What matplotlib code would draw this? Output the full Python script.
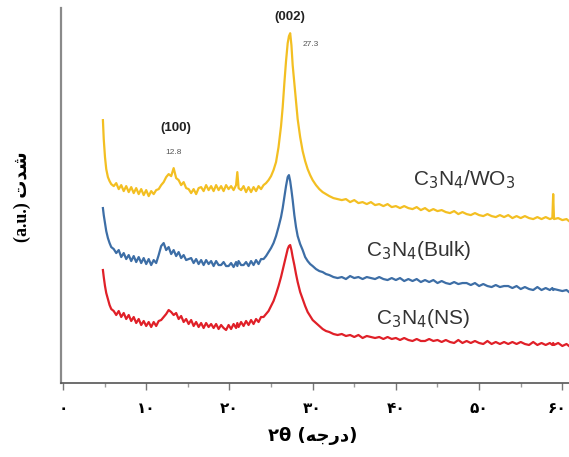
"""طرح XRD سه نمونه C3N4 را بازسازی می‌کند."""

import matplotlib

matplotlib.use("Agg")
import matplotlib.pyplot as plt
from matplotlib.ticker import MultipleLocator
from matplotlib.transforms import ScaledTranslation

OUT_PATH = "out.png"

TWO_THETA = [
    4.8, 4.9, 5.05, 5.2, 5.4, 5.6, 5.8,
    6.1, 6.4, 6.7, 7.0, 7.3, 7.6, 7.9, 8.2, 8.5, 8.8,
    9.1, 9.4, 9.7, 10.0, 10.3, 10.6, 10.9, 11.2, 11.5, 11.8,
    12.1, 12.4, 12.7, 13.0, 13.3, 13.6, 13.9, 14.2, 14.5, 14.8,
    15.1, 15.4, 15.7, 16.0, 16.3, 16.6, 16.9, 17.2, 17.5, 17.8,
    18.1, 18.4, 18.7, 19.0, 19.3, 19.6, 19.9, 20.2, 20.5, 20.8,
    20.95, 21.1, 21.4, 21.7, 22.0, 22.3, 22.6, 22.9, 23.2, 23.5, 23.8,
    24.1, 24.4, 24.7, 25.0, 25.3, 25.6, 25.9, 26.2,
    26.4, 26.6, 26.8, 27.0, 27.15, 27.3, 27.45, 27.6, 27.8, 28.0, 28.2,
    28.5, 28.8, 29.1, 29.4, 29.7, 30.0, 30.4, 30.8, 31.2, 31.6, 32.0, 32.5, 33.0,
    33.5, 34.0, 34.5, 35.0, 35.5, 36.0, 36.5, 37.0, 37.5, 38.0,
    38.5, 39.0, 39.5, 40.0, 40.5, 41.0, 41.5, 42.0, 42.5, 43.0,
    43.5, 44.0, 44.5, 45.0, 45.5, 46.0, 46.5, 47.0, 47.5, 48.0,
    48.5, 49.0, 49.5, 50.0, 50.5, 51.0, 51.5, 52.0, 52.5, 53.0,
    53.5, 54.0, 54.5, 55.0, 55.5, 56.0, 56.5, 57.0, 57.5, 58.0,
    58.5, 58.8, 58.9, 59.0, 59.5, 60.0, 60.5, 60.8,
]

WO3_COMPOSITE = [
    263, 244, 226, 214, 206, 202, 199,
    197, 200, 194, 198, 192, 197, 191, 196, 190, 195,
    189, 194, 188, 193, 187, 192, 189, 193, 194, 198,
    201, 206, 209, 207, 215, 205, 203, 198, 201, 195,
    194, 190, 194, 189, 195, 196, 192, 198, 193, 197,
    192, 198, 193, 197, 192, 198, 194, 197, 193, 198,
    211, 195, 193, 197, 191, 196, 191, 196, 192, 197, 194,
    198, 200, 203, 207, 213, 221, 236, 257,
    276, 300, 322, 340, 347, 350, 338, 318, 300, 282, 264,
    246, 232, 222, 214, 208, 203, 198, 194, 191, 189, 187, 185, 184,
    183, 184, 181, 183, 180, 181, 179, 181, 178, 179,
    177, 179, 176, 177, 175, 177, 175, 174, 176, 173,
    175, 172, 174, 172, 173, 171, 170, 172, 169, 171,
    169, 168, 170, 168, 167, 169, 167, 166, 168, 166,
    168, 165, 167, 165, 167, 165, 164, 166, 164, 166,
    164, 165, 189, 164, 165, 163, 164, 162,
]

BULK = [
    175, 168, 160, 152, 145, 140, 136,
    134, 130, 133, 126, 130, 124, 128, 122, 127, 121,
    126, 120, 125, 119, 124, 118, 123, 120, 128, 137,
    140, 133, 136, 129, 133, 127, 131, 125, 128, 123,
    124, 125, 120, 124, 119, 123, 118, 123, 119, 122,
    117, 122, 118, 118, 121, 117, 117, 120, 116, 121,
    117, 122, 118, 118, 121, 117, 122, 118, 123, 119, 124,
    124, 127, 131, 135, 140, 147, 156, 166,
    175, 186, 197, 206, 208, 202, 193, 183, 168, 156, 147,
    139, 133, 126, 122, 119, 117, 114, 112, 111, 109, 108, 106, 105,
    106, 104, 107, 105, 106, 104, 106, 105, 104, 106,
    104, 103, 105, 103, 105, 102, 104, 102, 104, 101,
    103, 101, 103, 100, 102, 100, 99, 101, 99, 100,
    100, 98, 100, 97, 99, 97, 96, 98, 96, 97,
    97, 95, 97, 94, 96, 94, 93, 96, 93, 95,
    93, 95, 93, 94, 93, 92, 93, 91,
]

NANOSHEET = [
    113, 106, 97, 90, 84, 78, 74,
    72, 68, 72, 66, 70, 64, 68, 62, 66, 60,
    64, 58, 62, 57, 61, 56, 61, 57, 62, 63,
    66, 69, 73, 71, 68, 70, 64, 67, 61, 64,
    59, 63, 57, 61, 56, 60, 55, 60, 56, 59,
    55, 59, 54, 58, 55, 53, 58, 54, 59, 55,
    60, 56, 61, 57, 62, 58, 63, 59, 64, 61, 66,
    66, 69, 72, 77, 82, 89, 97, 106,
    113, 120, 127, 134, 137, 138, 133, 126, 118, 109, 101,
    91, 84, 77, 71, 67, 63, 60, 57, 54, 52, 51, 49, 48,
    49, 47, 48, 46, 48, 45, 47, 46, 45, 46,
    44, 46, 44, 45, 43, 45, 43, 42, 44, 42,
    42, 44, 42, 43, 41, 43, 41, 40, 43, 40,
    42, 40, 42, 40, 39, 42, 39, 41, 39, 41,
    39, 41, 39, 41, 39, 38, 41, 38, 40, 38,
    40, 38, 40, 38, 40, 37, 39, 37,
]

SERIES = [
    (WO3_COMPOSITE, "#f3bf22", r"C$_3$N$_4$/WO$_3$", (48.2, 203)),
    (BULK, "#3d6ea6", r"C$_3$N$_4$(Bulk)", (42.8, 133)),
    (NANOSHEET, "#e02028", r"C$_3$N$_4$(NS)", (43.2, 65)),
]

PEAKS = [
    ("(002)", "27.3", (27.3, 366), (29.8, 339)),
    ("(100)", "12.8", (13.5, 255), (13.3, 231)),
]

TICK_VALUES = [0, 10, 20, 30, 40, 50, 60]
TICK_LABELS = ["۰", "۱۰", "۲۰", "۳۰", "۴۰", "۵۰", "۶۰"]

# متن فارسی از قبل شکل‌دهی و به ترتیب دیداری نوشته شده است
X_LABEL = "۲θ (\ufeea\ufe9f\ufead\ufea9)"
Y_LABEL = "(a.u.) \ufe95\ufeaa\ufeb7"


def main() -> None:
    fig = plt.figure(figsize=(5.69, 4.57), dpi=100)
    ax = fig.add_axes([0.107, 0.162, 0.893, 0.82])

    for values, color, label, (lx, ly) in SERIES:
        ax.plot(TWO_THETA, values, color=color, linewidth=1.6)
        ax.text(lx, ly, label, ha="center", va="center", fontsize=15,
                color="#333333", family=["Liberation Sans", "DejaVu Sans"])

    for hkl, angle, hkl_pos, angle_pos in PEAKS:
        ax.text(*hkl_pos, hkl, ha="center", va="center", fontsize=9.5,
                fontweight="bold", color="#222222",
                family=["Liberation Sans", "DejaVu Sans"])
        ax.text(*angle_pos, angle, ha="center", va="center", fontsize=6,
                color="#555555", family=["Liberation Sans", "DejaVu Sans"])

    ax.set_xlim(-0.25, 60.8)
    ax.set_ylim(0, 375)
    ax.set_yticks([])
    ax.set_xticks(TICK_VALUES)
    ax.set_xticklabels(TICK_LABELS, fontsize=11, fontweight="bold",
                       family=["DejaVu Sans"])
    ax.xaxis.set_minor_locator(MultipleLocator(5))
    ax.tick_params(axis="x", which="major", direction="out", length=5,
                   width=1, color="#777777", pad=8)
    ax.tick_params(axis="x", which="minor", direction="out", length=3,
                   width=1, color="#999999")
    # آخرین برچسب کمی به چپ تا در لبه بریده نشود
    last = ax.xaxis.get_major_ticks()[-1].label1
    last.set_transform(last.get_transform()
                       + ScaledTranslation(-4 / 72, 0, fig.dpi_scale_trans))

    for side in ("top", "right"):
        ax.spines[side].set_visible(False)
    ax.spines["left"].set_color("#8a8a8a")
    ax.spines["left"].set_linewidth(1.6)
    ax.spines["bottom"].set_color("#555555")
    ax.spines["bottom"].set_linewidth(1.2)

    fig.text(0.55, 0.045, X_LABEL, ha="center", va="center", fontsize=13,
             fontweight="bold", family=["DejaVu Sans"])
    fig.text(0.039, 0.569, Y_LABEL, ha="center", va="center", rotation=90,
             fontsize=13, fontweight="bold",
             family=["Liberation Serif", "DejaVu Sans"])

    fig.savefig(OUT_PATH, dpi=100)
    plt.close(fig)


if __name__ == "__main__":
    main()
